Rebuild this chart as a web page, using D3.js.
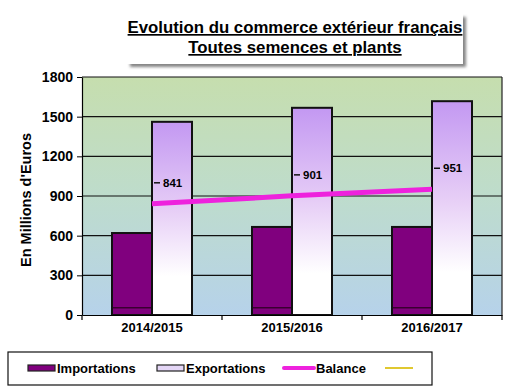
<!DOCTYPE html>
<html>
<head>
<meta charset="utf-8">
<script src="https://cdn.jsdelivr.net/npm/d3@7"></script>
<style>
  body { margin: 0; background: #fff; }
  svg text { font-family: Arial, "Liberation Sans", sans-serif; font-weight: bold; }
</style>
</head>
<body>
<div id="chart"></div>
<script>
// data
const categories = ["2014/2015", "2015/2016", "2016/2017"];
const importations = [620, 666, 666];
const exportations = [1461, 1567, 1617];
const balance = [841, 901, 951];
const yTicks = [0, 300, 600, 900, 1200, 1500, 1800];
const legendItems = ["Importations", "Exportations", "Balance", ""];

const W = 517, H = 388;
const margin = {top: 77, right: 15, bottom: 73, left: 82};
const width = W - margin.left - margin.right;
const height = H - margin.top - margin.bottom;

const svg = d3.select("#chart").append("svg")
    .attr("width", W)
    .attr("height", H);

const defs = svg.append("defs");

// plot background green -> blue
const bg = defs.append("linearGradient").attr("id", "bgGrad")
    .attr("x1", 0).attr("y1", 0).attr("x2", 0).attr("y2", 1);
bg.append("stop").attr("offset", "0%").attr("stop-color", "#c6deae");
bg.append("stop").attr("offset", "50%").attr("stop-color", "#bedccc");
bg.append("stop").attr("offset", "100%").attr("stop-color", "#b6d2ea");

// export bars lavender -> white
const ex = defs.append("linearGradient").attr("id", "exGrad")
    .attr("x1", 0).attr("y1", 0).attr("x2", 0).attr("y2", 1);
ex.append("stop").attr("offset", "0%").attr("stop-color", "#c398f2");
ex.append("stop").attr("offset", "45%").attr("stop-color", "#e6cdf6");
ex.append("stop").attr("offset", "80%").attr("stop-color", "#ffffff");
ex.append("stop").attr("offset", "100%").attr("stop-color", "#ffffff");

const shadow = defs.append("filter").attr("id", "shadow")
    .attr("x", "-5%").attr("y", "-10%").attr("width", "115%").attr("height", "130%");
shadow.append("feDropShadow").attr("dx", 3).attr("dy", 3).attr("stdDeviation", 1.5)
    .attr("flood-color", "#666").attr("flood-opacity", 0.8);

// title box
const title = svg.append("g");
title.append("rect")
    .attr("x", 127).attr("y", 14).attr("width", 336).attr("height", 50)
    .attr("fill", "#fff")
    .attr("filter", "url(#shadow)");
title.selectAll("text")
    .data(["Evolution du commerce extérieur français", "Toutes semences et plants"])
    .enter().append("text")
    .attr("x", 295)
    .attr("y", (d, i) => 33 + i * 20)
    .attr("text-anchor", "middle")
    .style("font-size", "16.8px")
    .style("text-decoration", "underline")
    .text(d => d);

const g = svg.append("g")
    .attr("transform", `translate(${margin.left},${margin.top})`);

const x0 = d3.scaleBand()
    .domain(categories)
    .range([0, width])
    .paddingInner(0)
    .paddingOuter(0);

const x1 = d3.scaleBand()
    .domain(["imp", "exp"])
    .range([x0.bandwidth() / 2 - 40, x0.bandwidth() / 2 + 40]);

const y = d3.scaleLinear()
    .domain([0, 1800])
    .range([height, 0]);

g.append("rect")
    .attr("width", width).attr("height", height)
    .attr("fill", "url(#bgGrad)");

// gridlines
g.selectAll(".grid")
    .data(yTicks.filter(d => d > 0))
    .enter().append("line")
    .attr("class", "grid")
    .attr("x1", 0).attr("x2", width)
    .attr("y1", d => y(d)).attr("y2", d => y(d))
    .attr("stroke", "#111").attr("stroke-width", 1.2);

g.append("line")
    .attr("x1", width).attr("x2", width)
    .attr("y1", 0).attr("y2", height)
    .attr("stroke", "#222").attr("stroke-width", 1.2);

// bars
const groups = g.selectAll(".grp")
    .data(categories)
    .enter().append("g")
    .attr("transform", d => `translate(${x0(d)},0)`);

groups.append("rect")
    .attr("x", x1("imp"))
    .attr("width", x1.bandwidth())
    .attr("y", (d, i) => y(importations[i]))
    .attr("height", (d, i) => height - y(importations[i]))
    .attr("fill", "#80007e")
    .attr("stroke", "#111").attr("stroke-width", 2);

groups.append("line")
    .attr("x1", x1("imp") + 1).attr("x2", x1("imp") + x1.bandwidth() - 1)
    .attr("y1", y(55)).attr("y2", y(55))
    .attr("stroke", "#3a0030").attr("stroke-width", 1.5);

groups.append("rect")
    .attr("x", x1("exp"))
    .attr("width", x1.bandwidth())
    .attr("y", (d, i) => y(exportations[i]))
    .attr("height", (d, i) => height - y(exportations[i]))
    .attr("fill", "url(#exGrad)")
    .attr("stroke", "#111").attr("stroke-width", 2);

// balance line
const cx = d => x0(d) + x0.bandwidth() / 2;
g.append("path")
    .datum(categories)
    .attr("fill", "none")
    .attr("stroke", "#ee22dd")
    .attr("stroke-width", 5)
    .attr("d", d3.line().x(d => cx(d)).y((d, i) => y(balance[i])));

// balance labels with a small leader
const labs = g.selectAll(".lab")
    .data(categories)
    .enter().append("g")
    .attr("transform", (d, i) => `translate(${cx(d)},${y(balance[i]) - 21})`);
labs.append("line")
    .attr("x1", 2).attr("x2", 8).attr("y1", 0).attr("y2", 0)
    .attr("stroke", "#111").attr("stroke-width", 1.5);
labs.append("text")
    .attr("x", 11).attr("y", 4)
    .style("font-size", "11.5px")
    .text((d, i) => balance[i]);

// axes
const yAxis = g.append("g")
    .call(d3.axisLeft(y).tickValues(yTicks).tickFormat(d3.format("d")).tickSize(5).tickSizeOuter(0));
yAxis.selectAll("text").style("font-size", "14px").attr("x", -9);
yAxis.select(".domain").attr("stroke-width", 1.2);

const xAxis = g.append("g")
    .attr("transform", `translate(0,${height})`)
    .call(d3.axisBottom(x0).tickSize(0).tickSizeOuter(0));
xAxis.selectAll("text").style("font-size", "13px").attr("dy", "1.1em");
xAxis.select(".domain").attr("stroke-width", 1.2);
xAxis.selectAll(".sep")
    .data(d3.range(categories.length + 1))
    .enter().append("line")
    .attr("class", "sep")
    .attr("x1", i => i * x0.step()).attr("x2", i => i * x0.step())
    .attr("y1", 0).attr("y2", 5)
    .attr("stroke", "#000").attr("stroke-width", 1.2);

svg.append("text")
    .attr("transform", `translate(31,${margin.top + height / 2 + 4}) rotate(-90)`)
    .attr("text-anchor", "middle")
    .style("font-size", "14.5px")
    .text("En Millions  d'Euros");

// legend
const legend = svg.append("g").attr("transform", "translate(8,352)");
legend.append("rect")
    .attr("width", 424).attr("height", 33)
    .attr("fill", "#fff").attr("stroke", "#111").attr("stroke-width", 1.2);

const lx = [20, 149, 276, 377];
const item = legend.selectAll(".item")
    .data(legendItems)
    .enter().append("g")
    .attr("transform", (d, i) => `translate(${lx[i]},16)`);

item.filter((d, i) => i === 0).append("rect")
    .attr("x", 0).attr("y", -3).attr("width", 27).attr("height", 6)
    .attr("fill", "#80007e").attr("stroke", "#222").attr("stroke-width", 1.2);
item.filter((d, i) => i === 1).append("rect")
    .attr("x", 0).attr("y", -3).attr("width", 27).attr("height", 6)
    .attr("fill", "#e4d6f6").attr("stroke", "#222").attr("stroke-width", 1.2);
item.filter((d, i) => i === 2).append("line")
    .attr("x1", 0).attr("x2", 30).attr("y1", 0).attr("y2", 0)
    .attr("stroke", "#ee22dd").attr("stroke-width", 4).attr("stroke-linecap", "round");
item.filter((d, i) => i === 3).append("line")
    .attr("x1", 0).attr("x2", 28).attr("y1", 0).attr("y2", 0)
    .attr("stroke", "#e0c830").attr("stroke-width", 2);

item.append("text")
    .attr("x", d => d === "Balance" ? 32 : 29)
    .attr("y", 4.5)
    .style("font-size", "13px")
    .text(d => d);
</script>
</body>
</html>
